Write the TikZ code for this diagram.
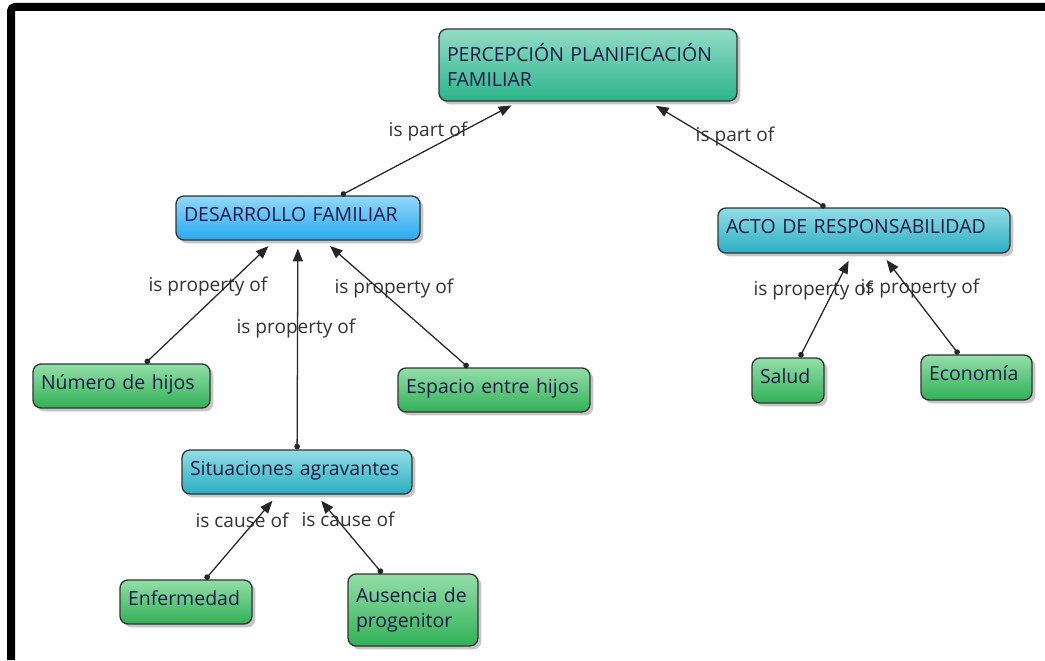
\documentclass[tikz,border=0pt]{standalone}
\usepackage{fontspec}
\setmainfont{Open Sans}
\usetikzlibrary{shadows,arrows.meta}

\definecolor{edgegray}{HTML}{333333}
\definecolor{inknavy}{HTML}{1E1B4B}
\definecolor{linkgray}{HTML}{333333}
\definecolor{greenA}{HTML}{93DEA8}
\definecolor{greenB}{HTML}{31B157}
\definecolor{tealA}{HTML}{93DCC6}
\definecolor{tealB}{HTML}{2BB38A}
\definecolor{blueA}{HTML}{93D8FB}
\definecolor{blueB}{HTML}{2AA8EE}
\definecolor{cyanA}{HTML}{93DCE6}
\definecolor{cyanB}{HTML}{2AAFC2}

\begin{document}
\begin{tikzpicture}[x=0.75pt,y=-0.75pt,
  concept/.style={draw=edgegray, line width=1pt, rounded corners=6pt,
    align=left, text=inknavy, inner xsep=6pt, inner ysep=3pt,
    font=\fontsize{14.6}{18.8}\selectfont,
    drop shadow={shadow xshift=2.5pt, shadow yshift=-2.5pt, opacity=0.45}},
  box/.style 2 args={text width=#1, minimum height=#2},
  oneline/.style={text depth=6pt},
  greenbox/.style={concept, top color=greenA, bottom color=greenB},
  tealbox/.style={concept, top color=tealA, bottom color=tealB},
  bluebox/.style={concept, top color=blueA, bottom color=blueB},
  cyanbox/.style={concept, top color=cyanA, bottom color=cyanB},
  linklabel/.style={text=linkgray, inner sep=0pt, font=\fontsize{14.3}{16}\selectfont},
  conn/.style={line width=0.95pt, draw=black!85,
    {Circle[length=4.2pt]}-{Triangle[length=9.5pt,width=7.5pt]}, shorten >=6pt}
]
\useasboundingbox (0,0) rectangle (1045,660);

% frame
\draw[line width=6pt, line cap=butt, rounded corners=3pt] (11,660) -- (11,7) -- (1045,7);

% concepts
\node[tealbox, box={211.5pt}{54pt}] (perc) at (588,65) {PERCEPCIÓN PLANIFICACIÓN\\FAMILIAR};
\node[bluebox, oneline, box={171pt}{33pt}] (des) at (298,218) {DESARROLLO FAMILIAR};
\node[cyanbox, oneline, box={207pt}{33.75pt}] (acto) at (864,230.5) {ACTO DE RESPONSABILIDAD};
\node[greenbox, oneline, box={120.75pt}{33pt}] (num) at (121.5,386) {Número de hijos};
\node[greenbox, oneline, box={132pt}{33pt}] (esp) at (494,390) {Espacio entre hijos};
\node[cyanbox, oneline, box={160.5pt}{33pt}] (sit) at (297,472) {Situaciones agravantes};
\node[greenbox, oneline, box={87pt}{33pt}] (enf) at (186,602) {Enfermedad};
\node[greenbox, box={85.5pt}{54pt}] (aus) at (413,610) {Ausencia de\\progenitor};
\node[greenbox, oneline, box={42pt}{33.75pt}] (salud) at (788,380.5) {Salud};
\node[greenbox, oneline, box={71.25pt}{33.75pt}] (econ) at (976.5,377.5) {Economía};

% linking phrases
\node[linklabel] (l1) at (428,131) {is part of};
\node[linklabel] (l2) at (735,136) {is part of};
\node[linklabel] (l3) at (208,286) {is property of};
\node[linklabel] (l4) at (296,328) {is property of};
\node[linklabel] (l5) at (394,288) {is property of};
\node[linklabel] (l6) at (813,290) {is property of};
\node[linklabel] (l7) at (920,288) {is property of};
\node[linklabel] (l8) at (242,520) {is cause of};
\node[linklabel] (l9) at (348,519) {is cause of};

% connectors
\draw[conn] (des) -- (perc);
\draw[conn] (acto) -- (perc);
\draw[conn] (num) -- (des);
\draw[conn] (sit) -- (des);
\draw[conn] (esp) -- (des);
\draw[conn] (salud) -- (acto);
\draw[conn] (econ) -- (acto);
\draw[conn] (enf) -- (sit);
\draw[conn] (aus) -- (sit);
\end{tikzpicture}
\end{document}
